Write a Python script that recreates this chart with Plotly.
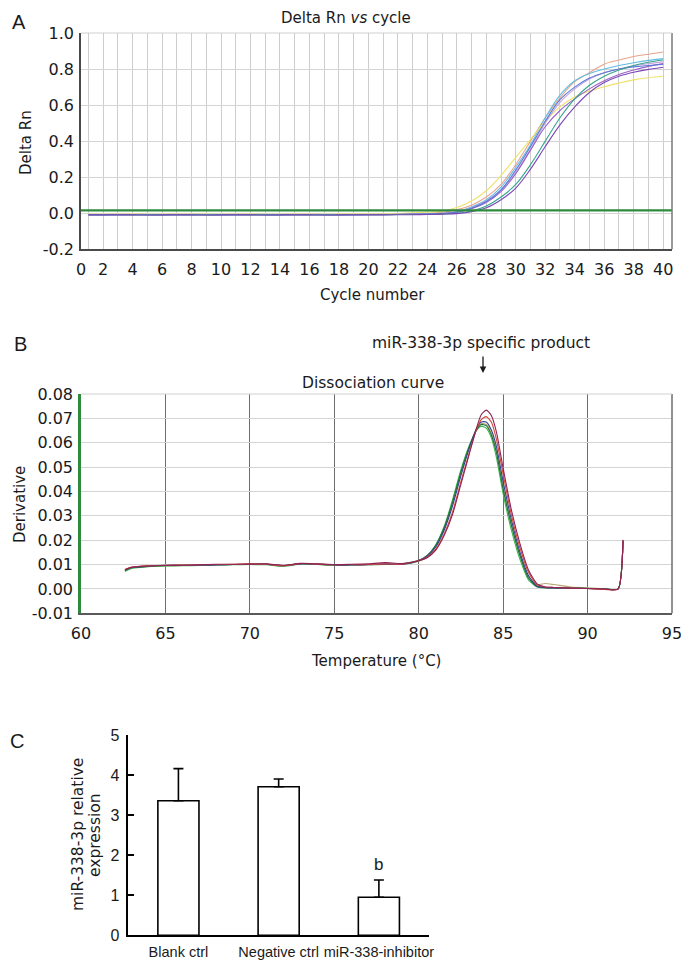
import plotly.graph_objects as go

# The page places the figure 8 px in from the top-left corner (body margin),
# so the figure is sized / positioned to compensate.
OFF = 8
FW, FH = 689 - OFF, 963 - OFF


def px(x, y):
    return (x - OFF) / FW, 1 - (y - OFF) / FH


def dom_x(left, right):
    return [(left - OFF) / FW, (right - OFF) / FW]


def dom_y(top, bottom):
    return [1 - (bottom - OFF) / FH, 1 - (top - OFF) / FH]


# ---------------- Panel A: amplification curves ----------------
CYCLES = list(range(1, 41))
A_XTICKS = [0.5] + list(range(2, 41, 2))
A_XTICKTEXT = ["0"] + [str(v) for v in range(2, 41, 2)]
A_YTICKS = [-0.2, 0.0, 0.2, 0.4, 0.6, 0.8, 1.0]
A_YTICKTEXT = ["-0.2", "0.0", "0.2", "0.4", "0.6", "0.8", "1.0"]
THRESHOLD = 0.016

amp_salmon = [-0.007, -0.007, -0.006, -0.006, -0.007, -0.007, -0.006, -0.006, -0.007, -0.007, -0.006, -0.006,
              -0.007, -0.007, -0.006, -0.006, -0.007, -0.007, -0.006, -0.006, -0.005, -0.004, -0.003, -0.001,
              0.005, 0.020, 0.045, 0.090, 0.160, 0.270, 0.400, 0.530, 0.640, 0.730, 0.780, 0.827, 0.850, 0.870,
              0.882, 0.895]
amp_lightblue = [-0.008, -0.008, -0.007, -0.007, -0.008, -0.008, -0.007, -0.007, -0.008, -0.008, -0.007, -0.007,
                 -0.008, -0.008, -0.007, -0.007, -0.008, -0.008, -0.007, -0.007, -0.006, -0.005, -0.004, -0.002,
                 0.000, 0.010, 0.035, 0.075, 0.145, 0.255, 0.380, 0.530, 0.655, 0.735, 0.775, 0.800, 0.820, 0.835,
                 0.848, 0.858]
amp_yellow = [-0.006, -0.006, -0.006, -0.005, -0.006, -0.005, -0.006, -0.006, -0.005, -0.006, -0.006, -0.005,
              -0.006, -0.006, -0.005, -0.006, -0.006, -0.005, -0.005, -0.004, -0.003, -0.001, 0.002, 0.006,
              0.012, 0.032, 0.068, 0.125, 0.210, 0.310, 0.410, 0.510, 0.590, 0.645, 0.678, 0.702, 0.722, 0.740,
              0.752, 0.760]
amp_lavender = [-0.008, -0.007, -0.007, -0.008, -0.008, -0.007, -0.007, -0.008, -0.008, -0.007, -0.007, -0.008,
                -0.008, -0.007, -0.007, -0.008, -0.008, -0.007, -0.007, -0.007, -0.006, -0.006, -0.005, -0.003,
                0.000, 0.008, 0.030, 0.070, 0.130, 0.230, 0.355, 0.500, 0.615, 0.690, 0.745, 0.780, 0.800, 0.818,
                0.830, 0.840]
amp_purple = [-0.009, -0.009, -0.008, -0.008, -0.009, -0.009, -0.008, -0.008, -0.009, -0.009, -0.008, -0.008,
              -0.009, -0.009, -0.008, -0.008, -0.009, -0.009, -0.008, -0.008, -0.008, -0.007, -0.006, -0.005,
              -0.002, 0.005, 0.025, 0.060, 0.120, 0.220, 0.350, 0.480, 0.570, 0.635, 0.690, 0.735, 0.770, 0.795,
              0.815, 0.830]
amp_blue = [-0.007, -0.008, -0.008, -0.007, -0.007, -0.008, -0.008, -0.007, -0.007, -0.008, -0.008, -0.007,
            -0.007, -0.008, -0.008, -0.007, -0.007, -0.008, -0.008, -0.007, -0.007, -0.006, -0.005, -0.004,
            -0.002, 0.006, 0.028, 0.065, 0.130, 0.240, 0.370, 0.510, 0.630, 0.700, 0.750, 0.780, 0.800, 0.812,
            0.820, 0.825]
amp_teal = [-0.008, -0.008, -0.008, -0.009, -0.008, -0.008, -0.008, -0.009, -0.008, -0.008, -0.008, -0.009,
            -0.008, -0.008, -0.008, -0.009, -0.008, -0.008, -0.008, -0.008, -0.008, -0.007, -0.007, -0.006,
            -0.004, 0.000, 0.012, 0.040, 0.090, 0.160, 0.270, 0.400, 0.530, 0.635, 0.710, 0.760, 0.795, 0.820,
            0.838, 0.850]
amp_violet = [-0.009, -0.009, -0.009, -0.009, -0.010, -0.009, -0.009, -0.009, -0.010, -0.009, -0.009, -0.009,
              -0.010, -0.009, -0.009, -0.009, -0.010, -0.009, -0.009, -0.009, -0.009, -0.008, -0.008, -0.007,
              -0.005, -0.002, 0.008, 0.030, 0.075, 0.140, 0.245, 0.370, 0.490, 0.590, 0.670, 0.725, 0.760, 0.782,
              0.798, 0.810]

AMP_SERIES = [
    ("salmon", amp_salmon, "#e9a48c"),
    ("light blue", amp_lightblue, "#62bde0"),
    ("yellow", amp_yellow, "#eee26a"),
    ("lavender", amp_lavender, "#c4a6dc"),
    ("purple", amp_purple, "#9a62c8"),
    ("blue", amp_blue, "#5a78d8"),
    ("teal", amp_teal, "#36a48c"),
    ("violet", amp_violet, "#7a48b8"),
]

# ---------------- Panel B: dissociation curves ----------------
TEMPS = [62.6, 63, 64, 65, 66, 67, 68, 69, 70, 71, 72, 73, 74, 75, 76, 77, 78, 79,
         80, 80.5, 81, 81.5, 82, 82.5, 83, 83.4, 83.7, 84.0, 84.3, 84.6, 85, 85.5, 86, 86.5,
         87, 87.5, 88, 89, 90, 91, 91.8, 92.1]
B_YTICKS = [-0.01, 0.0, 0.01, 0.02, 0.03, 0.04, 0.05, 0.06, 0.07, 0.08]
B_YTICKTEXT = ["-0.01", "0.00", "0.01", "0.02", "0.03", "0.04", "0.05", "0.06", "0.07", "0.08"]

dis_green = [0.0072, 0.0084, 0.0091, 0.0094, 0.0095, 0.0096, 0.0098, 0.0099, 0.0100, 0.0099, 0.0093, 0.0102,
             0.0100, 0.0097, 0.0098, 0.0099, 0.0100, 0.0101,
             0.0115, 0.0135, 0.0180, 0.0255, 0.0365, 0.0490, 0.0590, 0.0648, 0.0668, 0.0660, 0.0620, 0.0540,
             0.0390, 0.0238, 0.0120, 0.0037, 0.0008, 0.0005, 0.0005, 0.0004, 0.0003, 0.0001, 0.0000, 0.0200]
dis_darkgreen = [0.0076, 0.0087, 0.0093, 0.0096, 0.0097, 0.0098, 0.0099, 0.0100, 0.0102, 0.0101, 0.0096, 0.0104,
                 0.0101, 0.0099, 0.0099, 0.0100, 0.0101, 0.0102,
                 0.0118, 0.0138, 0.0178, 0.0250, 0.0355, 0.0480, 0.0585, 0.0650, 0.0675, 0.0670, 0.0632, 0.0560,
                 0.0410, 0.0258, 0.0135, 0.0045, 0.0010, 0.0005, 0.0004, 0.0003, 0.0002, 0.0000, -0.0001, 0.0195]
dis_navy = [0.0078, 0.0088, 0.0094, 0.0097, 0.0097, 0.0097, 0.0098, 0.0100, 0.0101, 0.0102, 0.0095, 0.0103,
            0.0102, 0.0098, 0.0098, 0.0099, 0.0102, 0.0101,
            0.0116, 0.0134, 0.0172, 0.0240, 0.0340, 0.0465, 0.0578, 0.0655, 0.0685, 0.0685, 0.0652, 0.0585,
            0.0440, 0.0280, 0.0150, 0.0055, 0.0012, 0.0005, 0.0004, 0.0003, 0.0002, 0.0000, -0.0001, 0.0198]
dis_red = [0.0080, 0.0090, 0.0095, 0.0097, 0.0098, 0.0099, 0.0100, 0.0101, 0.0103, 0.0101, 0.0095, 0.0104,
           0.0102, 0.0099, 0.0100, 0.0100, 0.0103, 0.0102,
           0.0117, 0.0130, 0.0162, 0.0225, 0.0315, 0.0440, 0.0560, 0.0650, 0.0695, 0.0707, 0.0685, 0.0615,
           0.0470, 0.0300, 0.0168, 0.0068, 0.0018, 0.0008, 0.0006, 0.0004, 0.0002, -0.0002, -0.0001, 0.0200]
dis_maroon = [0.0079, 0.0089, 0.0094, 0.0096, 0.0097, 0.0099, 0.0101, 0.0101, 0.0102, 0.0103, 0.0097, 0.0105,
              0.0103, 0.0100, 0.0101, 0.0103, 0.0108, 0.0104,
              0.0116, 0.0128, 0.0158, 0.0218, 0.0305, 0.0430, 0.0555, 0.0655, 0.0715, 0.0734, 0.0712, 0.0645,
              0.0495, 0.0320, 0.0185, 0.0078, 0.0022, 0.0008, 0.0006, 0.0004, 0.0002, 0.0000, -0.0001, 0.0200]
dis_tan = [0.0074, 0.0085, 0.0092, 0.0095, 0.0096, 0.0097, 0.0099, 0.0100, 0.0101, 0.0100, 0.0094, 0.0103,
           0.0101, 0.0098, 0.0099, 0.0100, 0.0101, 0.0102,
           0.0114, 0.0132, 0.0170, 0.0245, 0.0350, 0.0478, 0.0582, 0.0650, 0.0678, 0.0675, 0.0640, 0.0570,
           0.0420, 0.0265, 0.0140, 0.0050, 0.0018, 0.0022, 0.0018, 0.0008, 0.0004, 0.0001, 0.0000, 0.0202]

DIS_SERIES = [
    ("tan", dis_tan, "#b8a474"),
    ("green", dis_green, "#3cb84a"),
    ("dark green", dis_darkgreen, "#1f6f3f"),
    ("navy", dis_navy, "#34448c"),
    ("red", dis_red, "#d9453c"),
    ("maroon", dis_maroon, "#8c2455"),
]

# ---------------- Panel C: relative expression ----------------
GROUPS = ["Blank ctrl", "Negative ctrl", "miR-338-inhibitor"]
EXPR = [3.36, 3.71, 0.95]
EXPR_ERR = [0.80, 0.19, 0.43]
SIG_LABELS = ["", "", "b"]

BASE_FONT = "DejaVu Sans, Verdana, sans-serif"
ARIAL_FONT = "Liberation Sans, Arial, sans-serif"
INK = "#1a1a1a"

fig = go.Figure()

for name, vals, col in AMP_SERIES:
    fig.add_trace(go.Scatter(x=CYCLES, y=vals, mode="lines", name=name,
                             line=dict(color=col, width=1.1, shape="spline"),
                             xaxis="x", yaxis="y", showlegend=False))

for name, vals, col in DIS_SERIES:
    fig.add_trace(go.Scatter(x=TEMPS, y=vals, mode="lines", name=name,
                             line=dict(color=col, width=1.1, shape="spline", smoothing=0.6),
                             xaxis="x2", yaxis="y2", showlegend=False))

fig.add_trace(go.Bar(x=GROUPS, y=EXPR, width=0.41,
                     marker=dict(color="white", line=dict(color="black", width=1.6)),
                     error_y=dict(type="data", array=EXPR_ERR, arrayminus=[0, 0, 0], symmetric=False,
                                  color="black", thickness=1.6, width=5),
                     xaxis="x3", yaxis="y3", showlegend=False))

dA_x = dom_x(81, 672)
dA_y = dom_y(33, 249.3)
dB_y = dom_y(394, 613.3)
dC_x = dom_x(128.3, 429)
dC_y = dom_y(735, 935.3)

tickfont = dict(family=BASE_FONT, size=16, color=INK)

fig.update_layout(
    width=FW, height=FH, margin=dict(l=0, r=0, t=0, b=0, pad=0, autoexpand=False),
    paper_bgcolor="white", plot_bgcolor="white",
    font=dict(family=BASE_FONT, color=INK),
    xaxis=dict(domain=dA_x, anchor="y", range=[0.5, 40.6], tickmode="array",
               tickvals=A_XTICKS, ticktext=A_XTICKTEXT, tickfont=tickfont, tickangle=0,
               showgrid=True, gridcolor="#cdcdcd", gridwidth=1,
               minor=dict(dtick=1, tick0=0, showgrid=True, gridcolor="#cdcdcd", gridwidth=1),
               showline=True, linecolor="#4a4a4a", linewidth=1.5, zeroline=False, ticks="",
               automargin=False, ticklabelstandoff=5),
    yaxis=dict(domain=dA_y, anchor="x", range=[-0.2, 1.0], tickmode="array",
               tickvals=A_YTICKS, ticktext=A_YTICKTEXT, tickfont=tickfont,
               showgrid=True, gridcolor="#d4d4d4", gridwidth=1,
               showline=True, linecolor="#4a4a4a", linewidth=1.5, zeroline=False, ticks="",
               automargin=False, ticklabelstandoff=2),
    xaxis2=dict(domain=dA_x, anchor="y2", range=[60, 95], dtick=5, tick0=60, tickfont=tickfont,
                tickangle=0, showgrid=True, gridcolor="#6e6e6e", gridwidth=1,
                showline=True, linecolor="#5a5a5a", linewidth=1.5, zeroline=False, ticks="",
                automargin=False, ticklabelstandoff=5),
    yaxis2=dict(domain=dB_y, anchor="x2", range=[-0.01, 0.08], tickmode="array",
                tickvals=B_YTICKS, ticktext=B_YTICKTEXT, tickfont=tickfont,
                showgrid=True, gridcolor="#d4d4d4", gridwidth=1,
                showline=True, linecolor="#2e8b3e", linewidth=2.5, zeroline=False, ticks="",
                automargin=False, ticklabelstandoff=2),
    xaxis3=dict(domain=dC_x, anchor="y3", range=[-0.5, 2.5], type="category",
                tickfont=dict(family=ARIAL_FONT, size=14.5, color=INK), tickangle=0,
                showgrid=False, showline=True, linecolor="black", linewidth=1.5, ticks="",
                automargin=False, ticklabelstandoff=3),
    yaxis3=dict(domain=dC_y, anchor="x3", range=[0, 5], dtick=1, tick0=0,
                tickfont=dict(family=ARIAL_FONT, size=16, color=INK),
                showgrid=False, showline=True, linecolor="black", linewidth=1.5, zeroline=False,
                ticks="inside", ticklen=6, tickwidth=1.5, tickcolor="black",
                automargin=False, ticklabelstandoff=4),
)

shapes = [
    # threshold line in panel A
    dict(type="line", xref="x domain", yref="y", x0=0, x1=1, y0=THRESHOLD, y1=THRESHOLD,
         line=dict(color="#2e8b3e", width=2.2), layer="above"),
    # panel A right/top borders
    dict(type="line", xref="x domain", yref="y domain", x0=1, x1=1, y0=0, y1=1,
         line=dict(color="#7a7a7a", width=1.5)),
    dict(type="line", xref="x domain", yref="y domain", x0=0, x1=1, y0=1, y1=1,
         line=dict(color="#d0d0d0", width=1)),
    # panel B right/top borders
    dict(type="line", xref="x2 domain", yref="y2 domain", x0=1, x1=1, y0=0, y1=1,
         line=dict(color="#6e6e6e", width=1.5)),
    dict(type="line", xref="x2 domain", yref="y2 domain", x0=0, x1=1, y0=1, y1=1,
         line=dict(color="#d0d0d0", width=1)),
]
fig.update_layout(shapes=shapes)


def note(text, x, y, size=15, family=BASE_FONT, angle=0, **kw):
    xx, yy = px(x, y)
    d = dict(text=text, x=xx, y=yy, xref="paper", yref="paper", showarrow=False,
             font=dict(family=family, size=size, color=INK), textangle=angle,
             xanchor="center", yanchor="middle")
    d.update(kw)
    return d


annotations = [
    note("A", 19, 22, size=20, family=ARIAL_FONT),
    note("B", 20, 344, size=20, family=ARIAL_FONT),
    note("C", 17, 741, size=20, family=ARIAL_FONT),
    note("Delta Rn <i>vs</i> cycle", 346, 18, size=15),
    note("Delta Rn", 26, 143, size=15, angle=-90),
    note("Cycle number", 373, 295, size=15),
    note("miR-338-3p specific product", 481, 343, size=15.5),
    note("Dissociation curve", 373, 383, size=15.5),
    note("Derivative", 20, 505, size=15, angle=-90),
    note("Temperature (°C)", 376, 661, size=15),
    note("miR-338-3p relative", 78, 835, size=15.5, angle=-90),
    note("expression", 95, 835, size=15.5, angle=-90),
]
# arrow pointing at the specific product peak
ax_, ay_ = px(483, 373)
annotations.append(dict(text="", x=ax_, y=ay_, xref="paper", yref="paper", showarrow=True,
                        ax=0, ay=-18, arrowhead=2, arrowsize=1, arrowwidth=1.3, arrowcolor=INK))
# significance letters above error bars
for g, v, e, s in zip(GROUPS, EXPR, EXPR_ERR, SIG_LABELS):
    if s:
        annotations.append(dict(text=s, x=g, y=v + e, xref="x3", yref="y3", showarrow=False,
                                yanchor="bottom", yshift=4,
                                font=dict(family=ARIAL_FONT, size=17, color=INK)))
fig.update_layout(annotations=annotations)

fig.write_html("out.html")
